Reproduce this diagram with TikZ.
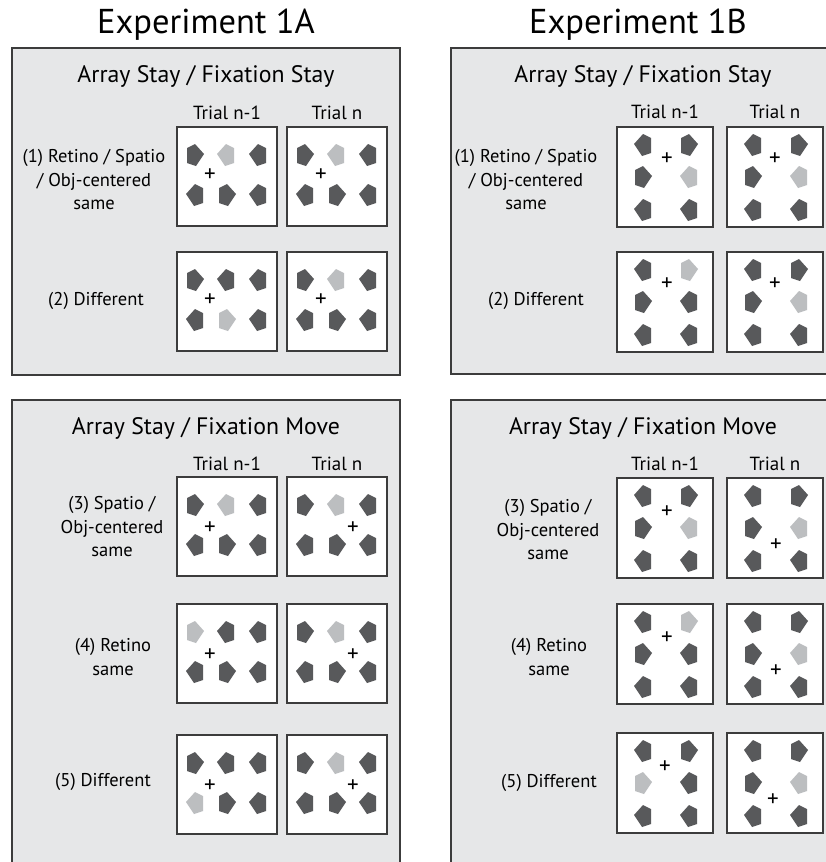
\documentclass[tikz,border=0pt]{standalone}
\usepackage{fontspec}
\setmainfont{PT Sans}
\definecolor{panelgray}{HTML}{E6E7E8}
\definecolor{linegray}{HTML}{3C3C3C}
\definecolor{tokdark}{HTML}{58595B}
\definecolor{toklight}{HTML}{BCBEC0}

\tikzset{
  panel/.style={fill=panelgray, draw=linegray, line width=2pt},
  trialbox/.style={draw=linegray, fill=white, line width=2pt, inner sep=0pt},
  tok/.pic={\fill[pic actions] (-8,-7) -- (0,-11) -- (9,-1) -- (1,11) -- (-8,8) -- cycle;},
  fixcross/.style={inner sep=0pt, font=\fontsize{23}{23}\selectfont},
  exptitle/.style={font=\fontsize{34.5}{40}\selectfont},
  paneltitle/.style={font=\fontsize{23.8}{30}\selectfont},
  trialtitle/.style={font=\fontsize{19}{22}\selectfont},
  rowlabel/.style={align=center, font=\fontsize{18.5}{23.5}\selectfont},
}

% three-by-two array, #1 name, #2/#3 top left, #4 light token, #5 cross
\newcommand{\trialA}[5]{%
  \begin{scope}[shift={(#2,#3)}]
    \node[trialbox, minimum width=100pt, minimum height=99pt] (#1) at (50,49.5) {};
    \foreach \n/\x/\y/\o in {1/18/28/1,2/49/28/-1,3/81/28/-1,4/18/68/-1,5/50/68/1,6/81/68/-1}{
      \ifnum\n=#4 \def\tokcol{toklight}\else\def\tokcol{tokdark}\fi
      \pic[fill=\tokcol, xscale=\o] at (\x,\y) {tok};
    }
    \node[fixcross] (#1x) at #5 {+};
  \end{scope}}

% two-by-three array
\newcommand{\trialB}[5]{%
  \begin{scope}[shift={(#2,#3)}]
    \node[trialbox, minimum width=96pt, minimum height=100pt] (#1) at (48,50) {};
    \foreach \n/\x/\y/\o in {1/26/18/-1,2/72/18/1,3/26/50/1,4/72/50/-1,5/26/83/-1,6/72/83/-1}{
      \ifnum\n=#4 \def\tokcol{toklight}\else\def\tokcol{tokdark}\fi
      \pic[fill=\tokcol, xscale=\o] at (\x,\y) {tok};
    }
    \node[fixcross] (#1x) at #5 {+};
  \end{scope}}

\begin{document}
\begin{tikzpicture}[x=1pt, y=-1pt]
  \clip (0,0) rectangle (826,862);
  \fill[white] (0,0) rectangle (826,862);

  \node[exptitle] (expA) at (206,25) {Experiment 1A};
  \node[exptitle] (expB) at (638,25) {Experiment 1B};

  \draw[panel] (12,48) rectangle (400,375);
  \draw[panel] (451,48) rectangle (840,374);
  \draw[panel] (12,400) rectangle (400,880);
  \draw[panel] (451,400) rectangle (840,880);

  \node[paneltitle] (stayA) at (206,76) {Array Stay / Fixation Stay};
  \node[paneltitle] (stayB) at (643,76) {Array Stay / Fixation Stay};
  \node[paneltitle] (moveA) at (206,428) {Array Stay / Fixation Move};
  \node[paneltitle] (moveB) at (643,428) {Array Stay / Fixation Move};

  \node[trialtitle] (tA1) at (227,113) {Trial n-1};
  \node[trialtitle] (tA2) at (337,113) {Trial n};
  \node[trialtitle] (tB1) at (665,112) {Trial n-1};
  \node[trialtitle] (tB2) at (775,112) {Trial n};
  \node[trialtitle] (tA3) at (227,464) {Trial n-1};
  \node[trialtitle] (tA4) at (337,464) {Trial n};
  \node[trialtitle] (tB3) at (665,464) {Trial n-1};
  \node[trialtitle] (tB4) at (775,464) {Trial n};

  % Experiment 1A
  \node[rowlabel] (lA1) at (94,180) {(1) Retino / Spatio\\/ Obj-centered\\same};
  \trialA{a1p}{177}{127}{2}{(33,48)}
  \trialA{a1n}{287}{127}{2}{(34,48)}
  \node[rowlabel] (lA2) at (96,301) {(2) Different};
  \trialA{a2p}{177}{252}{5}{(33,48)}
  \trialA{a2n}{287}{252}{2}{(34,48)}
  \node[rowlabel] (lA3) at (112,527) {(3) Spatio /\\Obj-centered\\same};
  \trialA{a3p}{177}{477}{2}{(33,51)}
  \trialA{a3n}{287}{477}{2}{(66,51)}
  \node[rowlabel] (lA4) at (113,657) {(4) Retino\\same};
  \trialA{a4p}{177}{604}{1}{(33,51)}
  \trialA{a4n}{287}{604}{2}{(66,51)}
  \node[rowlabel] (lA5) at (103,782) {(5) Different};
  \trialA{a5p}{177}{735}{4}{(33,51)}
  \trialA{a5n}{287}{735}{2}{(66,51)}

  % Experiment 1B
  \node[rowlabel] (lB1) at (526,180) {(1) Retino / Spatio\\/ Obj-centered\\same};
  \trialB{b1p}{617}{127}{4}{(50,32)}
  \trialB{b1n}{727}{127}{4}{(48,32)}
  \node[rowlabel] (lB2) at (536,301) {(2) Different};
  \trialB{b2p}{617}{252}{2}{(50,32)}
  \trialB{b2n}{727}{252}{4}{(48,32)}
  \node[rowlabel] (lB3) at (548,530) {(3) Spatio /\\Obj-centered\\same};
  \trialB{b3p}{617}{478}{4}{(50,34)}
  \trialB{b3n}{727}{478}{4}{(49,67)}
  \node[rowlabel] (lB4) at (549,657) {(4) Retino\\same};
  \trialB{b4p}{617}{604}{2}{(50,34)}
  \trialB{b4n}{727}{604}{4}{(49,67)}
  \node[rowlabel] (lB5) at (549,783) {(5) Different};
  \trialB{b5p}{617}{733}{3}{(48,34)}
  \trialB{b5n}{727}{733}{4}{(46,67)}
\end{tikzpicture}
\end{document}
